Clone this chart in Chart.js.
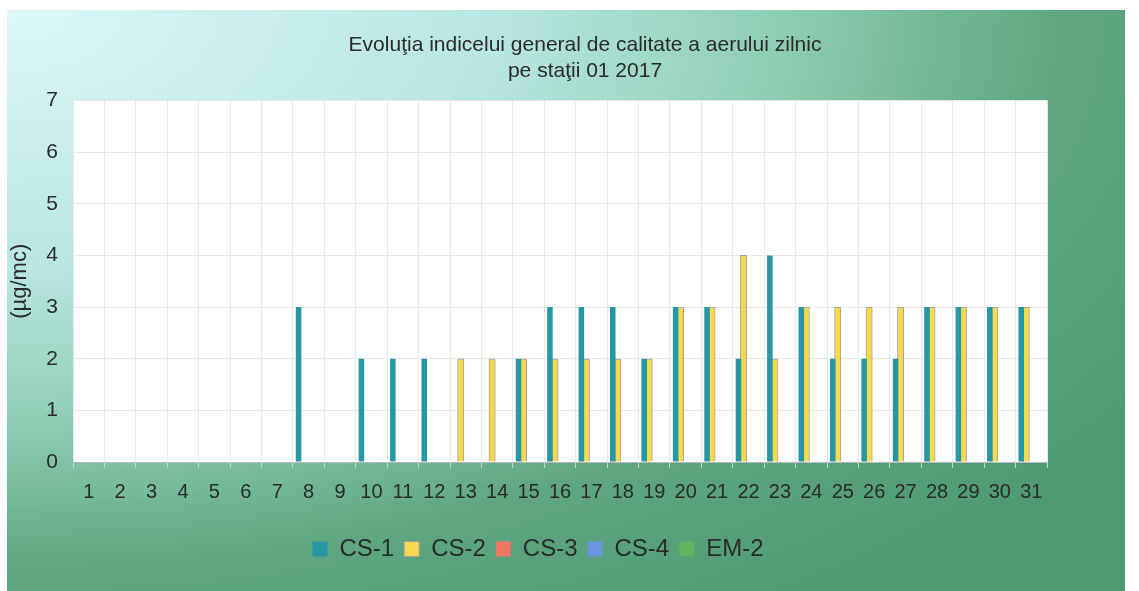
<!DOCTYPE html>
<html>
<head>
<meta charset="utf-8">
<script src="https://cdn.jsdelivr.net/npm/chart.js@4"></script>
<style>
  html, body { margin: 0; padding: 0; background: #fff; overflow: hidden; }
  #frame {
    position: absolute; left: 7px; top: 10px; width: 1118px; height: 581px; overflow: hidden;
    background: radial-gradient(1380px 730px at 0% 0%, #dcf7f7 0%, #b8e6e0 36%, #8acbb0 58%, #5ea780 76%, #4e9b73 100%);
  }
</style>
</head>
<body>
<div id="frame"><canvas id="myChart"></canvas></div>
<script>
let zile = ['1','2','3','4','5','6','7','8','9','10','11','12','13','14','15','16','17','18','19','20','21','22','23','24','25','26','27','28','29','30','31'];

let cs1 = [0,0,0,0,0,0,0,3,0,2,2,2,0,0,2,3,3,3,2,3,3,2,4,3,2,2,2,3,3,3,3];
let cs2 = [0,0,0,0,0,0,0,0,0,0,0,0,2,2,2,2,2,2,2,3,3,4,2,3,3,3,3,3,3,3,3];
let cs3 = [];
let cs4 = [];
let em2 = [];

let valoriY = [0,1,2,3,4,5,6,7];

let ctx = document.getElementById('myChart').getContext('2d');
ctx.canvas.width = 1156;
ctx.canvas.height = 581;

// fundal alb pentru zona graficului + legenda mutata putin la stanga
let fundalPlot = {
  id: 'fundalPlot',
  afterLayout(chart) {
    chart.legend.left -= 22;
    chart.legend.right -= 22;
  },
  beforeDraw(chart) {
    let a = chart.chartArea;
    let c = chart.ctx;
    c.save();
    c.fillStyle = '#ffffff';
    c.fillRect(a.left, a.top, a.right - a.left, a.bottom - a.top);
    c.restore();
  }
};

let dataset = [
  {
    label: 'CS-1',
    data: cs1,
    backgroundColor: '#2797a6',
    borderColor: '#2797a6',
    borderWidth: 0,
    barPercentage: 1.1
  },
  {
    label: 'CS-2',
    data: cs2,
    backgroundColor: '#f7d94c',
    borderColor: '#a89cb0',
    borderWidth: 1,
    barPercentage: 1.25
  },
  {
    label: 'CS-3',
    data: cs3,
    backgroundColor: '#f07662',
    borderColor: '#f07662'
  },
  {
    label: 'CS-4',
    data: cs4,
    backgroundColor: '#6b93e0',
    borderColor: '#6b93e0'
  },
  {
    label: 'EM-2',
    data: em2,
    backgroundColor: '#5fb35a',
    borderColor: '#5fb35a'
  }
];

let myChart = new Chart(ctx, {
  type: 'bar',
  data: {
    labels: zile,
    datasets: dataset
  },
  plugins: [fundalPlot],
  options: {
    responsive: false,
    animation: false,
    categoryPercentage: 0.8,
    layout: { padding: { left: 0, right: 0, top: 0, bottom: 20 } },
    plugins: {
      title: {
        display: true,
        text: ['Evoluţia indicelui general de calitate a aerului zilnic', 'pe staţii 01 2017'],
        color: '#2b2b2b',
        font: { family: 'Liberation Sans', size: 21, weight: 'normal', lineHeight: 1.25 },
        padding: { top: 22, bottom: 16 }
      },
      legend: {
        position: 'bottom',
        fullSize: false,
        labels: {
          color: '#2b2b2b',
          font: { family: 'Liberation Sans', size: 24 },
          boxWidth: 15,
          boxHeight: 15,
          padding: 10
        }
      },
      tooltip: { enabled: false }
    },
    scales: {
      x: {
        grid: { color: '#e9e9e9', tickColor: '#cfcfcf', tickLength: 6, offset: true },
        border: { color: '#b8b8b8' },
        ticks: {
          color: '#2b2b2b',
          font: { family: 'Liberation Sans', size: 20 },
          padding: 12,
          maxRotation: 0,
          autoSkip: false
        },
        afterFit(scale) { scale.height = 65; }
      },
      y: {
        min: 0,
        max: 7,
        afterBuildTicks(scale) { scale.ticks = valoriY.map(v => ({ value: v })); },
        grid: { color: '#e9e9e9', drawTicks: false },
        border: { display: false },
        ticks: {
          color: '#2b2b2b',
          font: { family: 'Liberation Sans', size: 21 },
          padding: 15
        },
        title: {
          display: true,
          text: '(µg/mc)',
          color: '#2b2b2b',
          font: { family: 'Liberation Sans', size: 22 },
          padding: { top: 0, bottom: 0 }
        },
        afterFit(scale) { scale.width = 66; }
      },
      dreapta: {
        type: 'linear',
        position: 'right',
        display: true,
        grid: { display: false },
        border: { display: false },
        ticks: { display: false },
        afterFit(scale) { scale.width = 116; }
      }
    }
  }
});
</script>
</body>
</html>
